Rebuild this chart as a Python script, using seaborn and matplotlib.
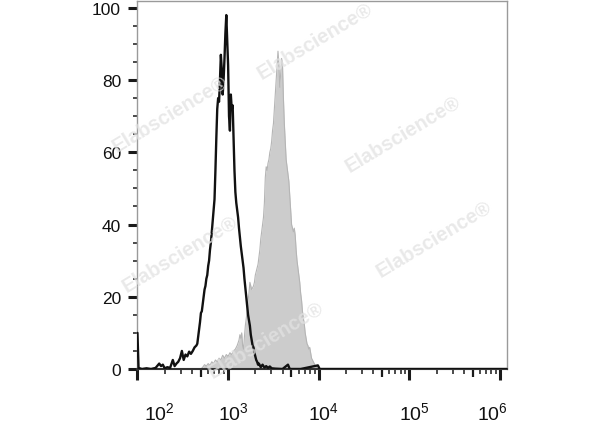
import numpy as np
import pandas as pd
import matplotlib
matplotlib.use("Agg")
import matplotlib.pyplot as plt
import matplotlib.transforms as mtrans
from matplotlib.ticker import FixedLocator, LogLocator, MultipleLocator, LogFormatterSciNotation, NullFormatter
import seaborn as sns

# ---- data (x stored as log10 of intensity) ----
black_log = [2.000, 2.012, 2.05, 2.10, 2.15, 2.20, 2.24, 2.26, 2.28, 2.30, 2.33, 2.36, 2.39, 2.41,
             2.43, 2.45, 2.47, 2.49, 2.51, 2.53, 2.55, 2.57, 2.59, 2.61, 2.63, 2.65, 2.66, 2.67,
             2.68, 2.69, 2.70, 2.71, 2.72, 2.73, 2.74, 2.75, 2.76, 2.77, 2.78, 2.79, 2.80, 2.81,
             2.82, 2.83, 2.84, 2.85, 2.86, 2.87, 2.88, 2.89, 2.90, 2.91, 2.92, 2.93, 2.94, 2.95,
             2.96, 2.97, 2.98, 2.99, 3.00, 3.01, 3.02, 3.03, 3.04, 3.05, 3.06, 3.07, 3.08, 3.09,
             3.10, 3.11, 3.12, 3.13, 3.14, 3.15, 3.16, 3.17, 3.18, 3.19, 3.20, 3.21, 3.22, 3.23,
             3.24, 3.25, 3.26, 3.27, 3.28, 3.29, 3.30, 3.31, 3.32, 3.33, 3.34, 3.36, 3.38, 3.40,
             3.42, 3.44, 3.46, 3.48, 3.52, 3.60, 3.66, 3.68, 3.80, 3.99, 4.01, 6.10]
black_val = [10.0, 0.3, 0.0, 0.2, 0.0, 0.3, 1.5, 0.8, 1.2, 0.2, 0.5, 0.3, 2.5, 0.8,
             1.5, 2.0, 3.0, 5.0, 2.5, 4.0, 3.5, 4.8, 4.2, 5.0, 6.0, 6.5, 7.0, 9.0,
             11.0, 13.0, 15.5, 16.0, 18.0, 20.0, 22.0, 23.0, 25.0, 26.0, 28.5, 30.0, 33.0, 35.0,
             38.0, 41.0, 44.0, 47.0, 55.0, 64.0, 72.0, 75.0, 74.0, 80.0, 87.0, 83.0, 76.0, 80.0,
             86.0, 93.0, 98.0, 91.0, 84.0, 70.0, 66.0, 76.0, 72.0, 73.0, 64.0, 55.0, 49.0, 46.0,
             44.0, 42.0, 39.0, 36.5, 34.0, 32.0, 30.0, 28.0, 25.0, 22.5, 20.0, 17.5, 15.0, 13.5,
             12.0, 9.5, 8.0, 6.5, 6.0, 4.5, 3.5, 2.5, 2.0, 1.2, 1.5, 0.5, 1.2, 0.4,
             0.8, 0.3, 0.7, 0.2, 0.1, 0.0, 1.2, 0.0, 0.0, 1.0, 0.0, 0.0]

gray_log = [2.70, 2.72, 2.74, 2.76, 2.78, 2.80, 2.82, 2.84, 2.86, 2.88, 2.90, 2.92, 2.94, 2.96,
            2.98, 3.00, 3.02, 3.04, 3.06, 3.08, 3.10, 3.12, 3.13, 3.14, 3.15, 3.16, 3.17, 3.18,
            3.19, 3.20, 3.21, 3.22, 3.23, 3.24, 3.25, 3.26, 3.27, 3.28, 3.29, 3.30, 3.31, 3.32,
            3.33, 3.34, 3.35, 3.36, 3.37, 3.38, 3.39, 3.40, 3.41, 3.42, 3.43, 3.44, 3.45, 3.46,
            3.47, 3.48, 3.49, 3.50, 3.51, 3.52, 3.53, 3.54, 3.55, 3.56, 3.57, 3.58, 3.59, 3.60,
            3.61, 3.62, 3.63, 3.64, 3.65, 3.66, 3.67, 3.68, 3.69, 3.70, 3.71, 3.72, 3.73, 3.74,
            3.75, 3.76, 3.77, 3.78, 3.79, 3.80, 3.81, 3.82, 3.83, 3.84, 3.85, 3.86, 3.87, 3.88,
            3.89, 3.90, 3.91, 3.92, 3.93, 3.94, 3.95, 3.96, 3.97, 3.98, 4.00]
gray_val = [0.0, 0.5, 1.2, 0.8, 1.5, 1.0, 2.0, 1.5, 2.5, 2.0, 3.0, 2.5, 3.8, 3.0,
            4.0, 3.5, 4.5, 4.0, 5.0, 5.5, 6.5, 8.0, 9.5, 8.5, 10.0, 6.5, 5.5, 9.0,
            12.0, 14.0, 16.0, 19.0, 21.0, 24.0, 23.0, 22.0, 22.5, 23.0, 24.0, 26.0, 27.0, 28.0,
            29.0, 31.0, 33.0, 36.0, 38.0, 40.0, 42.0, 46.0, 53.0, 56.0, 55.0, 57.0, 58.0, 60.0,
            61.0, 63.0, 66.0, 68.0, 72.0, 76.0, 80.0, 84.0, 88.0, 84.0, 78.0, 82.0, 86.0, 84.0,
            75.0, 68.0, 63.0, 58.0, 56.0, 54.0, 52.0, 48.0, 44.0, 40.0, 39.0, 38.0, 39.0, 37.0,
            33.0, 30.0, 28.0, 26.0, 24.0, 21.0, 19.0, 16.0, 14.0, 12.5, 10.0, 8.5, 7.0, 6.5,
            5.5, 6.0, 4.5, 3.0, 2.5, 2.0, 1.5, 1.0, 0.6, 0.3, 0.0]

x_major_exp = [2, 3, 4, 5, 6]
y_major = [0, 20, 40, 60, 80, 100]
watermark = "Elabscience\u00ae"
watermark_pos = [(315, 42), (170, 115), (403, 135), (180, 255), (434, 240), (266, 341)]

# ---- style ----
sns.set_style("ticks")
plt.rcParams["font.family"] = ["Liberation Sans", "DejaVu Sans"]
plt.rcParams["mathtext.fontset"] = "custom"
plt.rcParams["mathtext.rm"] = "Liberation Sans"
plt.rcParams["mathtext.it"] = "Liberation Sans"
plt.rcParams["mathtext.default"] = "regular"

W, H = 600, 427
fig = plt.figure(figsize=(W / 100, H / 100), dpi=100)
ax = fig.add_axes([137 / W, 57 / H, 370 / W, 368 / H])
ax.set_xscale("log")

black = pd.DataFrame({"x": np.power(10.0, black_log), "y": black_val})
gray = pd.DataFrame({"x": np.power(10.0, gray_log), "y": gray_val})

ax.fill_between(gray["x"], 0, gray["y"], color="#cccccc", lw=0, zorder=1)
sns.lineplot(data=gray, x="x", y="y", ax=ax, color="#b5b5b5", lw=0.8,
             estimator=None, sort=False, zorder=2)
sns.lineplot(data=black, x="x", y="y", ax=ax, color="#111111", lw=1.7,
             estimator=None, sort=False, zorder=4)

ax.set_xlim(10 ** 1.995, 10 ** 6.076)
ax.set_ylim(0, 101.9)
ax.set_xlabel("")
ax.set_ylabel("")

ax.xaxis.set_major_locator(FixedLocator([10.0 ** e for e in x_major_exp]))
ax.xaxis.set_major_formatter(LogFormatterSciNotation())
ax.xaxis.set_minor_locator(LogLocator(base=10, subs=[2, 3, 4, 6, 7, 8, 9], numticks=20))
ax.xaxis.set_minor_formatter(NullFormatter())
ax.yaxis.set_major_locator(FixedLocator(y_major))
ax.yaxis.set_minor_locator(MultipleLocator(5))

tick_col = "#1a1a1a"
ax.tick_params(axis="x", which="major", direction="out", length=8, width=2.2,
               color=tick_col, labelsize=14, pad=15, labelcolor="#111111")
ax.tick_params(axis="x", which="minor", direction="out", length=3.6, width=1.1, color=tick_col)
ax.tick_params(axis="y", which="major", direction="out", length=6.5, width=2.2,
               color=tick_col, labelsize=12.5, pad=5, labelcolor="#111111")
ax.tick_params(axis="y", which="minor", direction="out", length=3, width=1.1, color=tick_col)

# medium ticks at 5 x 10^k
sec = ax.secondary_xaxis("bottom", functions=(lambda v: v, lambda v: v))
sec.set_xscale("log")
sec.xaxis.set_major_locator(FixedLocator([5.0 * 10.0 ** e for e in x_major_exp[:-1]]))
sec.xaxis.set_minor_locator(FixedLocator([]))
sec.tick_params(axis="x", which="major", direction="out", length=5.8, width=1.6,
                color=tick_col, labelbottom=False)
for s in sec.spines.values():
    s.set_visible(False)

for side in ["top", "right", "left"]:
    ax.spines[side].set_color("#9a9a9a")
    ax.spines[side].set_linewidth(1.0)
ax.spines["bottom"].set_color("#333333")
ax.spines["bottom"].set_linewidth(1.5)

for (px, py) in watermark_pos:
    fig.text(px / W, 1 - py / H, watermark, rotation=31, ha="center", va="center",
             fontsize=14.5, fontweight="bold", color="#e2e2e2", alpha=0.75, zorder=3)

fig.canvas.draw()
shifts = {0: 22, 1: 5, 2: 5, 3: 5, 4: -8}
for i, tk in enumerate(ax.xaxis.get_major_ticks()):
    dx = shifts.get(i, 0)
    tk.label1.set_transform(tk.label1.get_transform() +
                            mtrans.ScaledTranslation(dx / 100, 0, fig.dpi_scale_trans))

fig.savefig("out.png", dpi=100)
